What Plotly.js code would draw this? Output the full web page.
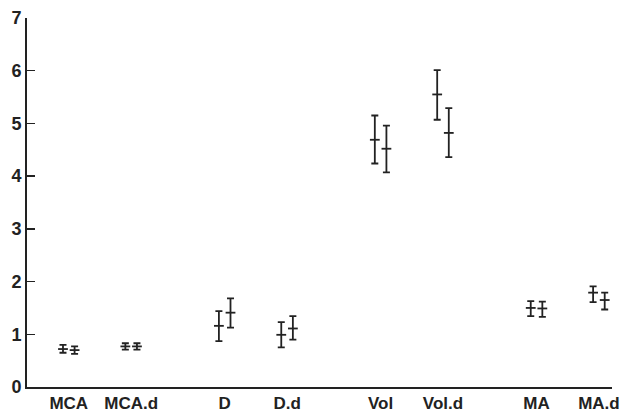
<!DOCTYPE html>
<html>
<head>
<meta charset="utf-8">
<script src="https://cdn.plot.ly/plotly-3.0.1.min.js"></script>
<style>html,body{margin:0;padding:0;background:#fff;}#chart{width:621px;height:415px;}</style>
</head>
<body>
<div id="chart"></div>
<script>
// Data
var categories = ['MCA', 'MCA.d', 'D', 'D.d', 'Vol', 'Vol.d', 'MA', 'MA.d'];
var groupPos = [1, 2, 3.5, 4.5, 6, 7, 8.5, 9.5];

var meanA  = [0.72, 0.77, 1.16, 0.99, 4.69, 5.55, 1.50, 1.79];
var upperA = [0.80, 0.83, 1.44, 1.23, 5.15, 6.01, 1.63, 1.91];
var lowerA = [0.65, 0.71, 0.87, 0.75, 4.24, 5.07, 1.345, 1.61];

var meanB  = [0.70, 0.77, 1.41, 1.11, 4.52, 4.82, 1.49, 1.65];
var upperB = [0.77, 0.83, 1.68, 1.345, 4.96, 5.29, 1.62, 1.79];
var lowerB = [0.63, 0.71, 1.125, 0.90, 4.07, 4.36, 1.33, 1.47];

var yTicks = [0, 1, 2, 3, 4, 5, 6, 7];

var off = 0.093;
var ink = '#222';

function trace(mean, up, lo, shift) {
  return {
    type: 'scatter',
    mode: 'markers',
    x: groupPos.map(function (p) { return p + shift; }),
    y: mean,
    marker: { symbol: 'line-ew-open', size: 7, color: ink, line: { width: 1.8, color: ink } },
    error_y: {
      type: 'data',
      symmetric: false,
      array: up.map(function (u, i) { return u - mean[i]; }),
      arrayminus: lo.map(function (l, i) { return mean[i] - l; }),
      color: ink,
      thickness: 1.8,
      width: 3.5
    },
    hoverinfo: 'skip',
    showlegend: false
  };
}

var data = [trace(meanA, upperA, lowerA, -off), trace(meanB, upperB, lowerB, off)];

var layout = {
  width: 621,
  height: 415,
  margin: { l: 27, r: 9, t: 18, b: 28 },
  paper_bgcolor: '#fff',
  plot_bgcolor: '#fff',
  font: { family: 'Liberation Sans, Arial, sans-serif', color: '#222' },
  xaxis: {
    range: [0.33, 9.71],
    tickmode: 'array',
    tickvals: groupPos,
    ticktext: categories,
    ticks: '',
    showgrid: false,
    zeroline: false,
    showline: true,
    linecolor: '#222',
    linewidth: 2,
    tickfont: { size: 17, family: 'Liberation Sans, Arial, sans-serif', weight: 'bold', color: '#222' },
    fixedrange: true
  },
  yaxis: {
    range: [0, 7],
    tickmode: 'array',
    tickvals: yTicks,
    ticktext: yTicks.map(String),
    ticks: 'inside',
    ticklen: 8,
    tickwidth: 1.5,
    tickcolor: '#222',
    showgrid: false,
    zeroline: false,
    showline: true,
    linecolor: '#222',
    linewidth: 2,
    tickfont: { size: 18, family: 'Liberation Sans, Arial, sans-serif', weight: 'bold', color: '#222' },
    fixedrange: true
  }
};

Plotly.newPlot('chart', data, layout, { displayModeBar: false, staticPlot: true });
</script>
</body>
</html>
